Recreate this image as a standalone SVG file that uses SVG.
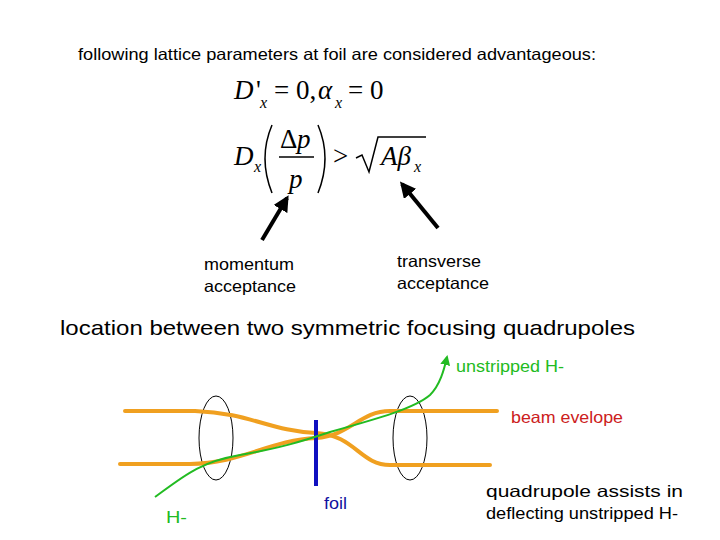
<svg xmlns="http://www.w3.org/2000/svg" width="720" height="540" viewBox="0 0 720 540">
<style>
.s{font-family:"Liberation Sans",Arial,sans-serif;font-size:16.5px}
.m{font-family:"Liberation Serif","Times New Roman",serif;font-size:27px;font-style:italic}
.n{font-family:"Liberation Serif","Times New Roman",serif;font-size:27px}
.sub{font-family:"Liberation Serif","Times New Roman",serif;font-size:16px;font-style:italic}
.env{fill:none;stroke:#f0a020;stroke-width:4;stroke-linecap:round}
.q{fill:none;stroke:#000;stroke-width:1}
</style>
<defs>
<marker id="ab" viewBox="0 0 10 10" refX="8" refY="5" markerWidth="4" markerHeight="4" orient="auto"><path d="M0,0L10,5L0,10z" fill="#000"/></marker>
<marker id="ag" viewBox="0 0 10 10" refX="8" refY="5" markerWidth="5" markerHeight="5" orient="auto"><path d="M0,0L10,5L0,10z" fill="#22bb22"/></marker>
</defs>
<rect width="720" height="540" fill="#fff"/>
<text class="s" x="78" y="60" textLength="518" lengthAdjust="spacingAndGlyphs">following lattice parameters at foil  are considered advantageous:</text>
<g id="eq1">
<text class="m" x="234" y="99">D</text><text class="n" x="256" y="99">'</text><text class="sub" x="260" y="108">x</text>
<text class="n" x="274" y="99">= 0,</text><text class="m" x="318" y="99">α</text><text class="sub" x="335" y="108">x</text><text class="n" x="348" y="99">= 0</text>
</g>
<g id="eq2">
<text class="m" x="234" y="165">D</text><text class="sub" x="254" y="172">x</text>
<path d="M272,125 Q258,158 272,193" fill="none" stroke="#000" stroke-width="1.5"/>
<path d="M318,125 Q332,158 318,193" fill="none" stroke="#000" stroke-width="1.5"/>
<text class="n" x="280" y="148">Δ</text><text class="m" x="297" y="148">p</text>
<line x1="279" y1="157" x2="314" y2="157" stroke="#000" stroke-width="1.5"/>
<text class="m" x="289" y="188">p</text>
<text class="n" x="333" y="165">&gt;</text>
<path d="M356,158 L362,155 L369,172 L378,137 L426,137" fill="none" stroke="#000" stroke-width="1.5"/>
<text class="m" x="381" y="165">Aβ</text><text class="sub" x="414" y="172">x</text>
</g>
<g id="arrows">
<line x1="262" y1="240" x2="287" y2="198" stroke="#000" stroke-width="4" marker-end="url(#ab)"/>
<line x1="438" y1="228" x2="402" y2="184" stroke="#000" stroke-width="4" marker-end="url(#ab)"/>
</g>
<text class="s" x="204" y="270" textLength="90" lengthAdjust="spacingAndGlyphs">momentum</text><text class="s" x="204" y="292" textLength="92" lengthAdjust="spacingAndGlyphs">acceptance</text>
<text class="s" x="397" y="267" textLength="84" lengthAdjust="spacingAndGlyphs">transverse</text><text class="s" x="397" y="289" textLength="92" lengthAdjust="spacingAndGlyphs">acceptance</text>
<text class="s" x="60" y="335" style="font-size:21px" textLength="575" lengthAdjust="spacingAndGlyphs">location between two symmetric focusing quadrupoles</text>
<g id="quads">
<ellipse class="q" cx="216" cy="438" rx="17" ry="42"/>
<ellipse class="q" cx="410" cy="438" rx="17" ry="42"/>
</g>
<g id="envelope">
<path class="env" d="M125,411 L195,411 C250,413 270,431 316,433 C355,435 360,465 390,465 L490,465"/>
<path class="env" d="M120,464 L190,464 C240,464 270,440 316,438 C350,436 360,411 390,411 L497,411"/>
</g>
<g id="foil"><line x1="316" y1="420" x2="316" y2="486" stroke="#1010c0" stroke-width="4"/></g>
<g id="beam">
<path d="M155,497 C185,475 200,462 240,455 C280,448 300,442 330,432 C380,418 415,408 430,395 C440,385 444,370 447,357" fill="none" stroke="#22bb22" stroke-width="2" marker-end="url(#ag)"/>
</g>
<text class="s" x="456" y="372" fill="#22bb22" textLength="108" lengthAdjust="spacingAndGlyphs">unstripped H-</text>
<text class="s" x="511" y="423" fill="#cc2020" textLength="112" lengthAdjust="spacingAndGlyphs">beam evelope</text>
<text class="s" x="324" y="509" fill="#1010a0" textLength="23" lengthAdjust="spacingAndGlyphs">foil</text>
<text class="s" x="166" y="523" fill="#22bb22" textLength="21" lengthAdjust="spacingAndGlyphs">H-</text>
<text class="s" x="486" y="497" textLength="197" lengthAdjust="spacingAndGlyphs">quadrupole assists in</text>
<text class="s" x="486" y="519" textLength="192" lengthAdjust="spacingAndGlyphs">deflecting unstripped H-</text>
</svg>
